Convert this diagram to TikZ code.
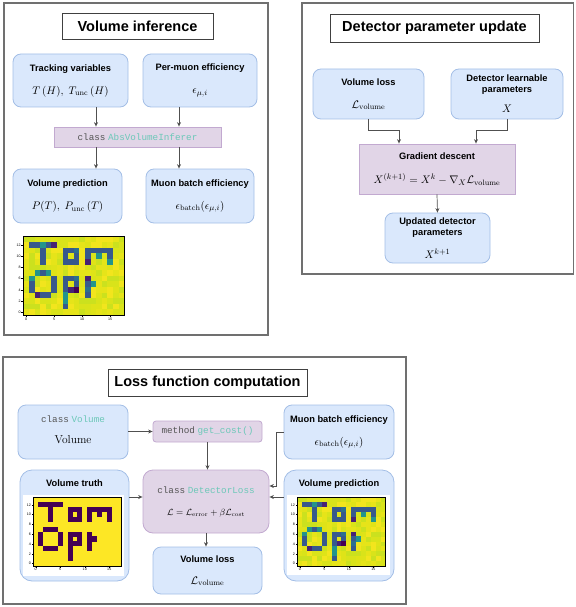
\documentclass[tikz,border=0pt]{standalone}
\usepackage{fontspec}
\usepackage{amsmath}
\usetikzlibrary{arrows.meta}
\newfontfamily\labelfont{Liberation Sans}
\newfontfamily\codefont{Liberation Mono}

\definecolor{boxblue}{HTML}{DAE8FC}
\definecolor{blueline}{HTML}{A3BEE6}
\definecolor{boxpurple}{HTML}{E1D5E7}
\definecolor{purpleline}{HTML}{C2A9D0}
\definecolor{panelgray}{HTML}{707070}
\definecolor{arrowgray}{HTML}{505050}
\definecolor{codegray}{HTML}{555555}
\definecolor{codeteal}{HTML}{6CC8B8}
% viridis shades for the maps
\definecolor{vyellow}{HTML}{FDE725}
\definecolor{vdark}{HTML}{440154}
\definecolor{vd}{HTML}{472274}
\definecolor{vb}{HTML}{37598C}
\definecolor{vc}{HTML}{2C6F8E}
\definecolor{vt}{HTML}{23948B}
\definecolor{bg0}{HTML}{F2E51D}
\definecolor{bg1}{HTML}{E6E419}
\definecolor{bg2}{HTML}{D9E31A}
\definecolor{bg3}{HTML}{CBE11E}
\definecolor{bg4}{HTML}{DFE318}

\newcommand{\formula}[1]{{\fontsize{11}{13}\selectfont$#1$}}
\newcommand{\codekw}[1]{{\codefont\mdseries\color{codegray}#1}}
\newcommand{\codeid}[1]{{\codefont\mdseries\color{codeteal}#1}}

\tikzset{
  panel/.style={draw=panelgray, line width=1.4pt},
  titlebox/.style={draw=black!75, fill=white, line width=0.7pt, inner sep=0pt,
    font=\labelfont\bfseries\fontsize{14.5}{17}\selectfont},
  boxfont/.style={font=\labelfont\bfseries\fontsize{9.3}{11}\selectfont},
  bluebox/.style={boxfont, draw=blueline, fill=boxblue, line width=0.8pt, rounded corners=8pt,
    align=center, inner sep=0pt},
  purplebox/.style={bluebox, draw=purpleline, fill=boxpurple},
  arr/.style={draw=arrowgray, line width=0.7pt, -{Stealth[length=4.5pt,width=4pt]}},
  tick/.style={font=\labelfont\fontsize{3.6}{4}\selectfont, inner sep=0.5pt},
}

% T o m / O p t cells (column/row)
\def\tomoptcells{1/12,2/12,3/12,4/12,5/12,3/11,3/10,3/9,
  7/11,8/11,9/11,7/10,9/10,7/9,8/9,9/9,
  11/11,12/11,13/11,14/11,15/11,11/10,13/10,15/10,11/9,15/9,
  2/7,3/7,4/7,1/6,1/5,1/4,5/6,5/5,5/4,2/3,3/3,4/3,
  7/6,8/6,9/6,7/5,9/5,7/4,8/4,9/4,7/3,7/2,7/1,
  11/6,11/5,11/4,11/3,12/5}
\def\predcells{1/12/vb,2/12/vb,3/12/vt,4/12/vb,5/12/vd,3/11/vb,3/10/vb,3/9/vb,
  7/11/vb,8/11/vb,9/11/vc,7/10/vb,9/10/vb,7/9/vb,8/9/vb,9/9/vb,
  11/11/vb,12/11/vb,13/11/vb,14/11/vb,15/11/vb,11/10/vb,13/10/vt,15/10/vb,11/9/vd,15/9/vt,
  2/7/vt,3/7/vb,4/7/vt,1/6/vt,1/5/vb,1/4/vb,5/6/vb,5/5/vb,5/4/vb,2/3/vd,3/3/vb,4/3/vb,
  7/6/vb,8/6/vb,9/6/vc,7/5/vb,9/5/vb,7/4/vb,8/4/vd,9/4/vdark,7/3/vt,7/2/vt,7/1/vb,
  11/6/vd,11/5/vb,11/4/vc,11/3/vb,12/5/vt}

\newcommand{\mapaxes}{%
  \draw[line width=0.3pt] (0,0) rectangle (18,14);
  \foreach \t in {0,5,10,15}
    \draw[line width=0.25pt] (\t+0.5,0) -- ++(0,-0.35) node[tick,below] {\t};
  \foreach \t in {0,2,...,12}
    \draw[line width=0.25pt] (0,\t+0.5) -- ++(-0.35,0) node[tick,left] {\t};
}
\newcommand{\truthmap}{%
  \fill[vyellow] (0,0) rectangle (18,14);
  \foreach \c/\r in \tomoptcells {\fill[vdark] (\c,\r) rectangle ++(1.03,1.03);}
  \mapaxes
}
\newcommand{\predmap}{%
  \pgfmathsetseed{11}
  \foreach \c in {0,...,17}{\foreach \r in {0,...,13}{%
    \pgfmathrandominteger{\k}{0}{4}\fill[bg\k] (\c,\r) rectangle ++(1.03,1.03);}}
  \foreach \c/\r/\k in \predcells {\fill[\k] (\c,\r) rectangle ++(1.03,1.03);}
  \mapaxes
}

\begin{document}
\begin{tikzpicture}[x=1pt, y=-1pt]
	\useasboundingbox (0,0) rectangle (575,607);
	% volume inference
	\draw[panel] (4,3) rectangle (268,335);
	\node[titlebox, minimum width=151pt, minimum height=26pt] (title1) at (137.5,26) {Volume inference};
	\node[bluebox, minimum width=115pt, minimum height=53pt] (track) at (70.5,80.5) {Tracking variables\\[12pt]\formula{T\,(H),\ T_{\mathrm{unc}}\,(H)}};
	\node[bluebox, minimum width=114pt, minimum height=53pt] (permuon) at (200,80.5) {Per-muon efficiency\\[12pt]\formula{\epsilon_{\mu,i}}};
	\node[purplebox, rounded corners=0pt, minimum width=167pt, minimum height=20pt] (infer) at (137.5,137) {\codekw{class} \codeid{AbsVolumeInferer}};
	\node[bluebox, minimum width=109pt, minimum height=54pt] (predA) at (67.5,196) {Volume prediction\\[12pt]\formula{P(T),\ P_{\mathrm{unc}}\,(T)}};
	\node[bluebox, minimum width=108pt, minimum height=54pt] (batchA) at (200,196) {Muon batch efficiency\\[12pt]\formula{\epsilon_{\mathrm{batch}}(\epsilon_{\mu,i})}};
	\draw[arr] ([xshift=25.5pt]track.south) -- ([xshift=-41.5pt]infer.north);
	\draw[arr] ([xshift=-21pt]permuon.south) -- ([xshift=41.5pt]infer.north);
	\draw[arr] ([xshift=-41.5pt]infer.south) -- ([xshift=28.5pt]predA.north);
	\draw[arr] ([xshift=41.5pt]infer.south) -- ([xshift=-21pt]batchA.north);
	\begin{scope}[shift={(23.3,315)}, x=5.6pt, y=5.6pt]
		\predmap
	\end{scope}
	% detector parameter update
	\draw[panel] (302,3) rectangle (573.5,274);
	\node[titlebox, minimum width=209pt, minimum height=28pt] (title2) at (434.5,28) {Detector parameter update};
	\node[bluebox, minimum width=111pt, minimum height=50pt] (vlossB) at (368.5,94) {Volume loss\\[12pt]\formula{\mathcal{L}_{\mathrm{volume}}}};
	\node[bluebox, minimum width=112pt, minimum height=50pt] (detlearn) at (507,94) {Detector learnable\\parameters\\[9pt]\formula{X}};
	\node[purplebox, rounded corners=0pt, minimum width=156pt, minimum height=50pt] (grad) at (437,169) {Gradient descent\\[13pt]\formula{X^{(k+1)} = X^{k} - \nabla_{X}\mathcal{L}_{\mathrm{volume}}}};
	\node[bluebox, minimum width=105pt, minimum height=50pt] (updated) at (437.5,238) {Updated detector\\parameters\\[10pt]\formula{X^{k+1}}};
	\draw[arr] (vlossB.south) -- ++(0,11) -| ([xshift=-38pt]grad.north);
	\draw[arr] (detlearn.south) -- ++(0,11) -| ([xshift=39pt]grad.north);
	\draw[arr] (grad.south) -- (updated.north);
	% loss function computation
	\draw[panel] (3,357) rectangle (406,604);
	\node[titlebox, minimum width=199pt, minimum height=27pt] (title3) at (207.5,382.5) {Loss function computation};
	\node[bluebox, minimum width=110pt, minimum height=54pt] (volC) at (73,432) {\raisebox{4pt}{\codekw{class} \codeid{Volume}}\\[8pt]\raisebox{4pt}{\rmfamily\mdseries\fontsize{11.5}{13}\selectfont Volume}};
	\node[purplebox, rounded corners=3pt, minimum width=109pt, minimum height=21pt] (method) at (207.5,431.5) {\codekw{method} \codeid{get\_cost()}};
	\node[bluebox, minimum width=110pt, minimum height=54pt] (batchC) at (339,432) {Muon batch efficiency\\[12pt]\formula{\epsilon_{\mathrm{batch}}(\epsilon_{\mu,i})}};
	\node[bluebox, rounded corners=12pt, minimum width=109pt, minimum height=111pt, label={[boxfont, inner sep=0pt, below=10pt]north:Volume truth}] (truth) at (74.5,525.5) {};
	\node[purplebox, rounded corners=10pt, minimum width=126pt, minimum height=63pt] (dloss) at (206,501.5) {\codekw{class} \codeid{DetectorLoss}\\[11pt]{\fontsize{9}{11}\selectfont$\mathcal{L} = \mathcal{L}_{\mathrm{error}} + \beta\mathcal{L}_{\mathrm{cost}}$}};
	\node[bluebox, rounded corners=12pt, minimum width=110pt, minimum height=111pt, label={[boxfont, inner sep=0pt, below=10pt]north:Volume prediction}] (predC) at (339,525.5) {};
	\node[bluebox, minimum width=109pt, minimum height=47pt] (vlossC) at (207.5,570.5) {Volume loss\\[11pt]\formula{\mathcal{L}_{\mathrm{volume}}}};
	\fill[white] (23,495) rectangle (124,576);
	\fill[white] (287,495) rectangle (390,575);
	\begin{scope}[shift={(33.3,566)}, x=4.9pt, y=4.9pt]
		\truthmap
	\end{scope}
	\begin{scope}[shift={(297.3,566)}, x=4.9pt, y=4.9pt]
		\predmap
	\end{scope}
	\draw[arr] (volC.east |- method.west) -- (method.west);
	\draw[arr] (method.south) -- (method.south |- dloss.north);
	\draw[arr] (batchC.west) -- ++(-7,0) |- ([yshift=15.5pt]dloss.east);
	\draw[arr] ([yshift=28.5pt]predC.west) -- ([yshift=4.5pt]dloss.east);
	\draw[arr] ([yshift=28.5pt]truth.east) -- ([yshift=4.5pt]dloss.west);
	\draw[arr] (dloss.south) -- (dloss.south |- vlossC.north);
\end{tikzpicture}
\end{document}
